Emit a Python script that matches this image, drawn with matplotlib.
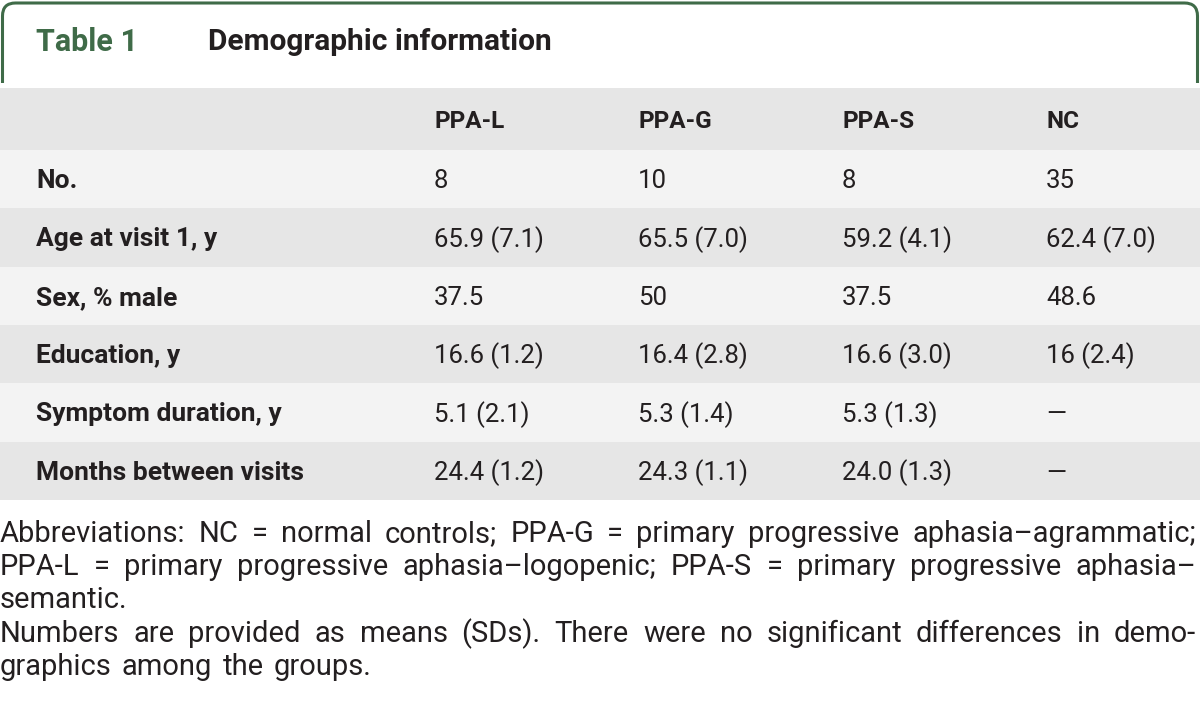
import matplotlib
matplotlib.use("Agg")
import matplotlib.pyplot as plt
from matplotlib.patches import Rectangle
from matplotlib.path import Path
from matplotlib.patches import PathPatch

plt.rcParams['font.family'] = ['Roboto', 'DejaVu Sans']

# --- table content ---
table_no = "Table 1"
table_title = "Demographic information"
columns = ["PPA-L", "PPA-G", "PPA-S", "NC"]
row_labels = ["No.", "Age at visit 1, y", "Sex, % male", "Education, y",
              "Symptom duration, y", "Months between visits"]
ppa_l = ["8", "65.9 (7.1)", "37.5", "16.6 (1.2)", "5.1 (2.1)", "24.4 (1.2)"]
ppa_g = ["10", "65.5 (7.0)", "50", "16.4 (2.8)", "5.3 (1.4)", "24.3 (1.1)"]
ppa_s = ["8", "59.2 (4.1)", "37.5", "16.6 (3.0)", "5.3 (1.3)", "24.0 (1.3)"]
nc = ["35", "62.4 (7.0)", "48.6", "16 (2.4)", "\u2014", "\u2014"]

# footnote lines as printed (justified, last line of each paragraph ragged)
foot_lines = [
    ("Abbreviations: NC = normal controls; PPA-G = primary progressive aphasia\u2013agrammatic;", True),
    ("PPA-L = primary progressive aphasia\u2013logopenic; PPA-S = primary progressive aphasia\u2013", True),
    ("semantic.", False),
    ("Numbers are provided as means (SDs). There were no significant differences in demo-", True),
    ("graphics among the groups.", False),
]

W, H = 1200, 715
green = '#3f6b48'
dark_row = '#e6e6e6'
light_row = '#f3f3f3'
text_col = '#231f20'

fig = plt.figure(figsize=(12, 7.15), dpi=100)
ax = fig.add_axes([0, 0, 1, 1])
ax.set_xlim(0, W)
ax.set_ylim(H, 0)
ax.axis('off')

# --- tab border with rounded top corners ---
r = 13
x0, x1, yt, yb = 2.5, 1197.5, 3, 83
verts = [(x0, yb), (x0, yt + r), (x0, yt), (x0 + r, yt),
         (x1 - r, yt), (x1, yt), (x1, yt + r), (x1, yb)]
codes = [Path.MOVETO, Path.LINETO, Path.CURVE3, Path.CURVE3,
         Path.LINETO, Path.CURVE3, Path.CURVE3, Path.LINETO]
ax.add_patch(PathPatch(Path(verts, codes), fill=False, edgecolor=green, lw=2.2))

ax.text(36, 42, table_no, color=green, fontsize=22, fontweight='bold', va='center')
ax.text(208, 42, table_title, color=text_col, fontsize=21.5, fontweight='bold', va='center')

# --- rows ---
col_x = [434, 638, 842, 1046]
header_top, header_h, row_h = 88, 62, 58.3
ax.add_patch(Rectangle((0, header_top), W, header_h, color=dark_row, lw=0))
for j, c in enumerate(columns):
    ax.text(col_x[j], header_top + header_h / 2 + 3, c, fontsize=17.5, fontweight='bold',
            color=text_col, va='center')

values = [ppa_l, ppa_g, ppa_s, nc]
for i, lab in enumerate(row_labels):
    top = header_top + header_h + i * row_h
    ax.add_patch(Rectangle((0, top), W, row_h, color=light_row if i % 2 == 0 else dark_row, lw=0))
    yc = top + row_h / 2 + 2
    ax.text(36, yc, lab, fontsize=19, fontweight='bold', color=text_col, va='center')
    for j in range(4):
        ax.text(col_x[j], yc, values[j][i], fontsize=18.5, color=text_col, va='center')

# --- justified footnotes ---
fig.canvas.draw()
renderer = fig.canvas.get_renderer()
left, right = 0, 1196
fs = 21
line_y = [534, 567, 600, 634, 667]
probe1 = ax.text(0, 0, 'a a', fontsize=fs)
probe2 = ax.text(0, 0, 'aa', fontsize=fs)
space_w = probe1.get_window_extent(renderer).width - probe2.get_window_extent(renderer).width
probe1.remove()
probe2.remove()
for (line, justify), y in zip(foot_lines, line_y):
    words = line.split(' ')
    texts = [ax.text(0, y, w, fontsize=fs, color=text_col, va='center') for w in words]
    widths = [t.get_window_extent(renderer).width for t in texts]
    if justify and len(words) > 1:
        gap = (right - left - sum(widths)) / (len(words) - 1)
    else:
        gap = space_w * 1.4
    x = left
    for t, w in zip(texts, widths):
        t.set_x(x)
        x += w + gap

fig.savefig('out.png', dpi=100)
